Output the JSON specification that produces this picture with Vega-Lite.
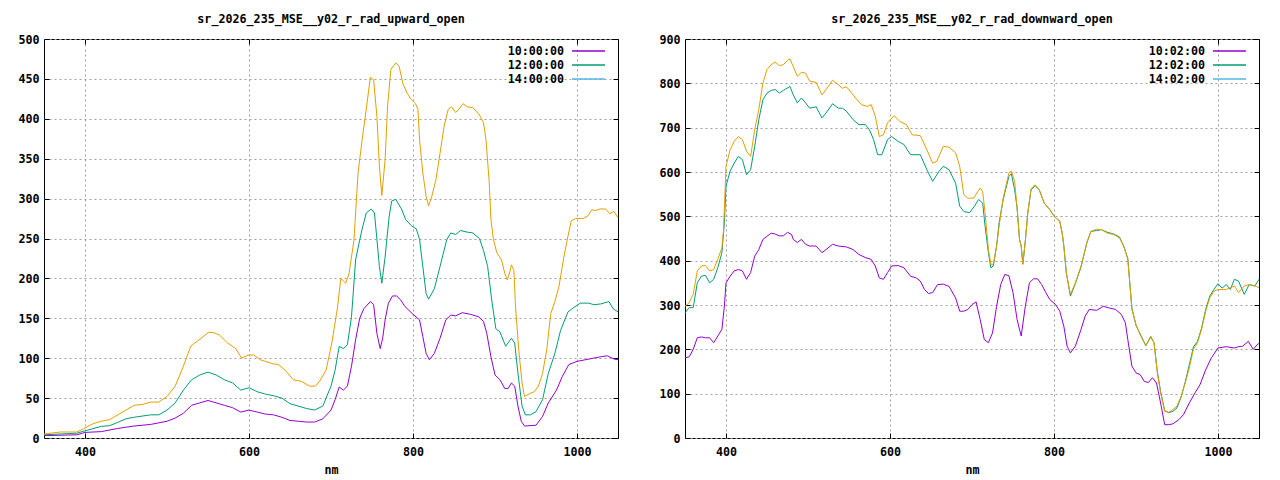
{
  "$schema": "https://vega.github.io/schema/vega-lite/v6.json",
  "padding": {"left": 13, "top": 13, "right": 0, "bottom": 0},
  "spacing": 33,
  "datasets": {
    "upward": [
      {"t":"10:00:00","nm":350,"v":3},{"t":"10:00:00","nm":390,"v":4},{"t":"10:00:00","nm":400,"v":7},{"t":"10:00:00","nm":420,"v":8},{"t":"10:00:00","nm":440,"v":12},{"t":"10:00:00","nm":460,"v":15},{"t":"10:00:00","nm":480,"v":17},{"t":"10:00:00","nm":500,"v":21},{"t":"10:00:00","nm":510,"v":25},{"t":"10:00:00","nm":520,"v":31},{"t":"10:00:00","nm":530,"v":41},{"t":"10:00:00","nm":540,"v":44},{"t":"10:00:00","nm":550,"v":47},{"t":"10:00:00","nm":560,"v":44},{"t":"10:00:00","nm":570,"v":41},{"t":"10:00:00","nm":580,"v":38},{"t":"10:00:00","nm":590,"v":32.5},{"t":"10:00:00","nm":600,"v":35},{"t":"10:00:00","nm":610,"v":32.5},{"t":"10:00:00","nm":620,"v":30},{"t":"10:00:00","nm":630,"v":29},{"t":"10:00:00","nm":640,"v":26},{"t":"10:00:00","nm":650,"v":22},{"t":"10:00:00","nm":660,"v":21},{"t":"10:00:00","nm":670,"v":20},{"t":"10:00:00","nm":680,"v":20},{"t":"10:00:00","nm":690,"v":24},{"t":"10:00:00","nm":700,"v":35},{"t":"10:00:00","nm":705,"v":48},{"t":"10:00:00","nm":710,"v":64},{"t":"10:00:00","nm":715,"v":60},{"t":"10:00:00","nm":720,"v":65},{"t":"10:00:00","nm":725,"v":90},{"t":"10:00:00","nm":730,"v":123},{"t":"10:00:00","nm":735,"v":150},{"t":"10:00:00","nm":740,"v":162},{"t":"10:00:00","nm":748,"v":171},{"t":"10:00:00","nm":752,"v":167},{"t":"10:00:00","nm":756,"v":131},{"t":"10:00:00","nm":760,"v":112},{"t":"10:00:00","nm":763,"v":125},{"t":"10:00:00","nm":766,"v":148},{"t":"10:00:00","nm":770,"v":169},{"t":"10:00:00","nm":775,"v":178},{"t":"10:00:00","nm":780,"v":178},{"t":"10:00:00","nm":785,"v":173},{"t":"10:00:00","nm":790,"v":165},{"t":"10:00:00","nm":800,"v":155},{"t":"10:00:00","nm":808,"v":148},{"t":"10:00:00","nm":812,"v":127},{"t":"10:00:00","nm":816,"v":106},{"t":"10:00:00","nm":820,"v":98},{"t":"10:00:00","nm":826,"v":106},{"t":"10:00:00","nm":833,"v":125},{"t":"10:00:00","nm":840,"v":148},{"t":"10:00:00","nm":846,"v":154},{"t":"10:00:00","nm":852,"v":153},{"t":"10:00:00","nm":860,"v":157},{"t":"10:00:00","nm":870,"v":155},{"t":"10:00:00","nm":880,"v":152},{"t":"10:00:00","nm":886,"v":146},{"t":"10:00:00","nm":890,"v":131},{"t":"10:00:00","nm":895,"v":102},{"t":"10:00:00","nm":900,"v":79},{"t":"10:00:00","nm":906,"v":73},{"t":"10:00:00","nm":912,"v":62},{"t":"10:00:00","nm":916,"v":62},{"t":"10:00:00","nm":920,"v":69},{"t":"10:00:00","nm":924,"v":65},{"t":"10:00:00","nm":928,"v":40},{"t":"10:00:00","nm":932,"v":21},{"t":"10:00:00","nm":936,"v":15},{"t":"10:00:00","nm":950,"v":16},{"t":"10:00:00","nm":958,"v":27},{"t":"10:00:00","nm":965,"v":44},{"t":"10:00:00","nm":975,"v":60},{"t":"10:00:00","nm":982,"v":77},{"t":"10:00:00","nm":990,"v":92},{"t":"10:00:00","nm":1000,"v":96},{"t":"10:00:00","nm":1010,"v":98},{"t":"10:00:00","nm":1020,"v":100},{"t":"10:00:00","nm":1030,"v":102},{"t":"10:00:00","nm":1037,"v":103},{"t":"10:00:00","nm":1045,"v":99},{"t":"10:00:00","nm":1050,"v":98},
      {"t":"12:00:00","nm":350,"v":4},{"t":"12:00:00","nm":390,"v":6},{"t":"12:00:00","nm":400,"v":9},{"t":"12:00:00","nm":420,"v":14.6},{"t":"12:00:00","nm":430,"v":15.4},{"t":"12:00:00","nm":440,"v":19.6},{"t":"12:00:00","nm":450,"v":24},{"t":"12:00:00","nm":460,"v":26},{"t":"12:00:00","nm":480,"v":29},{"t":"12:00:00","nm":490,"v":29},{"t":"12:00:00","nm":500,"v":35},{"t":"12:00:00","nm":510,"v":44},{"t":"12:00:00","nm":520,"v":60},{"t":"12:00:00","nm":530,"v":73},{"t":"12:00:00","nm":540,"v":79},{"t":"12:00:00","nm":550,"v":82.5},{"t":"12:00:00","nm":560,"v":79},{"t":"12:00:00","nm":570,"v":73},{"t":"12:00:00","nm":580,"v":69},{"t":"12:00:00","nm":590,"v":60},{"t":"12:00:00","nm":600,"v":63},{"t":"12:00:00","nm":610,"v":58},{"t":"12:00:00","nm":620,"v":55},{"t":"12:00:00","nm":630,"v":53},{"t":"12:00:00","nm":640,"v":50},{"t":"12:00:00","nm":650,"v":43},{"t":"12:00:00","nm":660,"v":40},{"t":"12:00:00","nm":670,"v":37},{"t":"12:00:00","nm":680,"v":35},{"t":"12:00:00","nm":690,"v":40},{"t":"12:00:00","nm":700,"v":65},{"t":"12:00:00","nm":705,"v":85},{"t":"12:00:00","nm":710,"v":115},{"t":"12:00:00","nm":715,"v":112},{"t":"12:00:00","nm":720,"v":117},{"t":"12:00:00","nm":725,"v":152},{"t":"12:00:00","nm":730,"v":223},{"t":"12:00:00","nm":735,"v":248},{"t":"12:00:00","nm":738,"v":262},{"t":"12:00:00","nm":743,"v":282},{"t":"12:00:00","nm":749,"v":287},{"t":"12:00:00","nm":753,"v":282},{"t":"12:00:00","nm":756,"v":249},{"t":"12:00:00","nm":759,"v":215},{"t":"12:00:00","nm":762,"v":194},{"t":"12:00:00","nm":766,"v":227},{"t":"12:00:00","nm":768,"v":248},{"t":"12:00:00","nm":771,"v":278},{"t":"12:00:00","nm":774,"v":297},{"t":"12:00:00","nm":779,"v":299},{"t":"12:00:00","nm":786,"v":287},{"t":"12:00:00","nm":791,"v":274},{"t":"12:00:00","nm":798,"v":266},{"t":"12:00:00","nm":804,"v":262},{"t":"12:00:00","nm":808,"v":249},{"t":"12:00:00","nm":811,"v":223},{"t":"12:00:00","nm":816,"v":181},{"t":"12:00:00","nm":819,"v":174},{"t":"12:00:00","nm":826,"v":187},{"t":"12:00:00","nm":833,"v":215},{"t":"12:00:00","nm":841,"v":248},{"t":"12:00:00","nm":846,"v":257},{"t":"12:00:00","nm":852,"v":255},{"t":"12:00:00","nm":858,"v":260},{"t":"12:00:00","nm":866,"v":258},{"t":"12:00:00","nm":873,"v":257},{"t":"12:00:00","nm":881,"v":250},{"t":"12:00:00","nm":886,"v":235},{"t":"12:00:00","nm":891,"v":215},{"t":"12:00:00","nm":896,"v":173},{"t":"12:00:00","nm":901,"v":137},{"t":"12:00:00","nm":906,"v":133},{"t":"12:00:00","nm":913,"v":115},{"t":"12:00:00","nm":920,"v":125},{"t":"12:00:00","nm":924,"v":119},{"t":"12:00:00","nm":928,"v":81},{"t":"12:00:00","nm":933,"v":40},{"t":"12:00:00","nm":937,"v":29},{"t":"12:00:00","nm":943,"v":29},{"t":"12:00:00","nm":950,"v":33},{"t":"12:00:00","nm":958,"v":48},{"t":"12:00:00","nm":965,"v":81},{"t":"12:00:00","nm":973,"v":106},{"t":"12:00:00","nm":980,"v":135},{"t":"12:00:00","nm":989,"v":158},{"t":"12:00:00","nm":994,"v":162},{"t":"12:00:00","nm":1004,"v":169},{"t":"12:00:00","nm":1014,"v":169},{"t":"12:00:00","nm":1021,"v":167},{"t":"12:00:00","nm":1029,"v":168},{"t":"12:00:00","nm":1039,"v":171},{"t":"12:00:00","nm":1044,"v":162},{"t":"12:00:00","nm":1050,"v":158},
      {"t":"14:00:00","nm":350,"v":5},{"t":"14:00:00","nm":370,"v":7.5},{"t":"14:00:00","nm":390,"v":7.5},{"t":"14:00:00","nm":400,"v":12.5},{"t":"14:00:00","nm":410,"v":18},{"t":"14:00:00","nm":420,"v":21},{"t":"14:00:00","nm":430,"v":23},{"t":"14:00:00","nm":440,"v":29},{"t":"14:00:00","nm":450,"v":35},{"t":"14:00:00","nm":460,"v":41},{"t":"14:00:00","nm":470,"v":42},{"t":"14:00:00","nm":480,"v":45},{"t":"14:00:00","nm":490,"v":45},{"t":"14:00:00","nm":500,"v":52},{"t":"14:00:00","nm":510,"v":65},{"t":"14:00:00","nm":520,"v":90},{"t":"14:00:00","nm":529,"v":115},{"t":"14:00:00","nm":539,"v":123},{"t":"14:00:00","nm":551,"v":132.5},{"t":"14:00:00","nm":557,"v":132},{"t":"14:00:00","nm":564,"v":129},{"t":"14:00:00","nm":574,"v":119},{"t":"14:00:00","nm":584,"v":112},{"t":"14:00:00","nm":591,"v":100},{"t":"14:00:00","nm":599,"v":104},{"t":"14:00:00","nm":606,"v":104},{"t":"14:00:00","nm":614,"v":98},{"t":"14:00:00","nm":629,"v":93},{"t":"14:00:00","nm":636,"v":92},{"t":"14:00:00","nm":644,"v":85},{"t":"14:00:00","nm":654,"v":73},{"t":"14:00:00","nm":664,"v":71},{"t":"14:00:00","nm":674,"v":65},{"t":"14:00:00","nm":681,"v":65},{"t":"14:00:00","nm":686,"v":71},{"t":"14:00:00","nm":694,"v":85},{"t":"14:00:00","nm":701,"v":119},{"t":"14:00:00","nm":708,"v":164},{"t":"14:00:00","nm":712,"v":200},{"t":"14:00:00","nm":718,"v":194},{"t":"14:00:00","nm":722,"v":206},{"t":"14:00:00","nm":728,"v":248},{"t":"14:00:00","nm":733,"v":332},{"t":"14:00:00","nm":738,"v":374},{"t":"14:00:00","nm":743,"v":412},{"t":"14:00:00","nm":748,"v":452},{"t":"14:00:00","nm":752,"v":449},{"t":"14:00:00","nm":756,"v":403},{"t":"14:00:00","nm":759,"v":341},{"t":"14:00:00","nm":762,"v":304},{"t":"14:00:00","nm":766,"v":349},{"t":"14:00:00","nm":769,"v":416},{"t":"14:00:00","nm":773,"v":462},{"t":"14:00:00","nm":779,"v":470},{"t":"14:00:00","nm":783,"v":466},{"t":"14:00:00","nm":788,"v":443},{"t":"14:00:00","nm":793,"v":432},{"t":"14:00:00","nm":798,"v":424},{"t":"14:00:00","nm":803,"v":419},{"t":"14:00:00","nm":806,"v":412},{"t":"14:00:00","nm":808,"v":374},{"t":"14:00:00","nm":812,"v":332},{"t":"14:00:00","nm":816,"v":303},{"t":"14:00:00","nm":819,"v":291},{"t":"14:00:00","nm":823,"v":303},{"t":"14:00:00","nm":828,"v":324},{"t":"14:00:00","nm":833,"v":357},{"t":"14:00:00","nm":838,"v":391},{"t":"14:00:00","nm":843,"v":412},{"t":"14:00:00","nm":847,"v":415},{"t":"14:00:00","nm":852,"v":408},{"t":"14:00:00","nm":856,"v":412},{"t":"14:00:00","nm":861,"v":419},{"t":"14:00:00","nm":866,"v":415},{"t":"14:00:00","nm":873,"v":414},{"t":"14:00:00","nm":881,"v":405},{"t":"14:00:00","nm":886,"v":395},{"t":"14:00:00","nm":889,"v":374},{"t":"14:00:00","nm":893,"v":320},{"t":"14:00:00","nm":895,"v":274},{"t":"14:00:00","nm":898,"v":249},{"t":"14:00:00","nm":902,"v":233},{"t":"14:00:00","nm":908,"v":223},{"t":"14:00:00","nm":912,"v":206},{"t":"14:00:00","nm":915,"v":198},{"t":"14:00:00","nm":918,"v":208},{"t":"14:00:00","nm":920,"v":217},{"t":"14:00:00","nm":923,"v":210},{"t":"14:00:00","nm":925,"v":165},{"t":"14:00:00","nm":929,"v":110},{"t":"14:00:00","nm":933,"v":69},{"t":"14:00:00","nm":936,"v":52},{"t":"14:00:00","nm":943,"v":56},{"t":"14:00:00","nm":948,"v":58},{"t":"14:00:00","nm":953,"v":65},{"t":"14:00:00","nm":958,"v":81},{"t":"14:00:00","nm":963,"v":110},{"t":"14:00:00","nm":968,"v":156},{"t":"14:00:00","nm":973,"v":171},{"t":"14:00:00","nm":978,"v":190},{"t":"14:00:00","nm":984,"v":227},{"t":"14:00:00","nm":988,"v":248},{"t":"14:00:00","nm":993,"v":272},{"t":"14:00:00","nm":998,"v":275},{"t":"14:00:00","nm":1007,"v":275},{"t":"14:00:00","nm":1013,"v":278},{"t":"14:00:00","nm":1018,"v":286},{"t":"14:00:00","nm":1023,"v":285},{"t":"14:00:00","nm":1028,"v":287},{"t":"14:00:00","nm":1035,"v":287},{"t":"14:00:00","nm":1040,"v":281},{"t":"14:00:00","nm":1045,"v":284},{"t":"14:00:00","nm":1050,"v":276}
    ],
    "downward": [
      {"t":"10:02:00","nm":350,"v":181},{"t":"10:02:00","nm":355,"v":183},{"t":"10:02:00","nm":360,"v":200},{"t":"10:02:00","nm":365,"v":226},{"t":"10:02:00","nm":370,"v":228},{"t":"10:02:00","nm":375,"v":226},{"t":"10:02:00","nm":380,"v":226},{"t":"10:02:00","nm":385,"v":215},{"t":"10:02:00","nm":390,"v":230},{"t":"10:02:00","nm":395,"v":245},{"t":"10:02:00","nm":398,"v":297},{"t":"10:02:00","nm":400,"v":350},{"t":"10:02:00","nm":405,"v":365},{"t":"10:02:00","nm":410,"v":377},{"t":"10:02:00","nm":415,"v":380},{"t":"10:02:00","nm":420,"v":377},{"t":"10:02:00","nm":425,"v":358},{"t":"10:02:00","nm":430,"v":373},{"t":"10:02:00","nm":435,"v":410},{"t":"10:02:00","nm":440,"v":425},{"t":"10:02:00","nm":445,"v":448},{"t":"10:02:00","nm":450,"v":455},{"t":"10:02:00","nm":455,"v":462},{"t":"10:02:00","nm":460,"v":460},{"t":"10:02:00","nm":465,"v":456},{"t":"10:02:00","nm":470,"v":456},{"t":"10:02:00","nm":475,"v":464},{"t":"10:02:00","nm":480,"v":459},{"t":"10:02:00","nm":482,"v":448},{"t":"10:02:00","nm":487,"v":441},{"t":"10:02:00","nm":492,"v":448},{"t":"10:02:00","nm":497,"v":437},{"t":"10:02:00","nm":502,"v":433},{"t":"10:02:00","nm":510,"v":433},{"t":"10:02:00","nm":517,"v":418},{"t":"10:02:00","nm":522,"v":425},{"t":"10:02:00","nm":530,"v":437},{"t":"10:02:00","nm":537,"v":433},{"t":"10:02:00","nm":547,"v":431},{"t":"10:02:00","nm":555,"v":425},{"t":"10:02:00","nm":562,"v":414},{"t":"10:02:00","nm":570,"v":407},{"t":"10:02:00","nm":577,"v":403},{"t":"10:02:00","nm":582,"v":388},{"t":"10:02:00","nm":587,"v":361},{"t":"10:02:00","nm":592,"v":358},{"t":"10:02:00","nm":597,"v":373},{"t":"10:02:00","nm":602,"v":388},{"t":"10:02:00","nm":610,"v":389},{"t":"10:02:00","nm":617,"v":384},{"t":"10:02:00","nm":625,"v":365},{"t":"10:02:00","nm":632,"v":361},{"t":"10:02:00","nm":637,"v":354},{"t":"10:02:00","nm":642,"v":335},{"t":"10:02:00","nm":647,"v":326},{"t":"10:02:00","nm":652,"v":328},{"t":"10:02:00","nm":658,"v":346},{"t":"10:02:00","nm":665,"v":347},{"t":"10:02:00","nm":672,"v":342},{"t":"10:02:00","nm":680,"v":316},{"t":"10:02:00","nm":685,"v":286},{"t":"10:02:00","nm":690,"v":286},{"t":"10:02:00","nm":695,"v":290},{"t":"10:02:00","nm":700,"v":301},{"t":"10:02:00","nm":705,"v":307},{"t":"10:02:00","nm":710,"v":267},{"t":"10:02:00","nm":715,"v":222},{"t":"10:02:00","nm":720,"v":215},{"t":"10:02:00","nm":725,"v":237},{"t":"10:02:00","nm":730,"v":297},{"t":"10:02:00","nm":735,"v":346},{"t":"10:02:00","nm":740,"v":369},{"t":"10:02:00","nm":745,"v":366},{"t":"10:02:00","nm":750,"v":328},{"t":"10:02:00","nm":755,"v":267},{"t":"10:02:00","nm":760,"v":230},{"t":"10:02:00","nm":765,"v":297},{"t":"10:02:00","nm":770,"v":350},{"t":"10:02:00","nm":775,"v":359},{"t":"10:02:00","nm":780,"v":359},{"t":"10:02:00","nm":785,"v":346},{"t":"10:02:00","nm":790,"v":328},{"t":"10:02:00","nm":795,"v":312},{"t":"10:02:00","nm":802,"v":301},{"t":"10:02:00","nm":807,"v":286},{"t":"10:02:00","nm":812,"v":252},{"t":"10:02:00","nm":816,"v":207},{"t":"10:02:00","nm":820,"v":192},{"t":"10:02:00","nm":826,"v":207},{"t":"10:02:00","nm":833,"v":245},{"t":"10:02:00","nm":838,"v":275},{"t":"10:02:00","nm":843,"v":290},{"t":"10:02:00","nm":852,"v":288},{"t":"10:02:00","nm":860,"v":297},{"t":"10:02:00","nm":868,"v":293},{"t":"10:02:00","nm":875,"v":290},{"t":"10:02:00","nm":882,"v":279},{"t":"10:02:00","nm":887,"v":260},{"t":"10:02:00","nm":890,"v":222},{"t":"10:02:00","nm":895,"v":162},{"t":"10:02:00","nm":900,"v":147},{"t":"10:02:00","nm":905,"v":143},{"t":"10:02:00","nm":910,"v":128},{"t":"10:02:00","nm":915,"v":125},{"t":"10:02:00","nm":920,"v":136},{"t":"10:02:00","nm":925,"v":124},{"t":"10:02:00","nm":930,"v":79},{"t":"10:02:00","nm":935,"v":30},{"t":"10:02:00","nm":940,"v":30},{"t":"10:02:00","nm":945,"v":32},{"t":"10:02:00","nm":952,"v":41},{"t":"10:02:00","nm":958,"v":53},{"t":"10:02:00","nm":965,"v":79},{"t":"10:02:00","nm":972,"v":102},{"t":"10:02:00","nm":978,"v":120},{"t":"10:02:00","nm":985,"v":154},{"t":"10:02:00","nm":992,"v":181},{"t":"10:02:00","nm":1000,"v":203},{"t":"10:02:00","nm":1010,"v":206},{"t":"10:02:00","nm":1020,"v":203},{"t":"10:02:00","nm":1025,"v":206},{"t":"10:02:00","nm":1030,"v":207},{"t":"10:02:00","nm":1037,"v":218},{"t":"10:02:00","nm":1043,"v":200},{"t":"10:02:00","nm":1048,"v":211},{"t":"10:02:00","nm":1050,"v":213},
      {"t":"12:02:00","nm":350,"v":282},{"t":"12:02:00","nm":355,"v":294},{"t":"12:02:00","nm":360,"v":294},{"t":"12:02:00","nm":365,"v":350},{"t":"12:02:00","nm":370,"v":365},{"t":"12:02:00","nm":375,"v":367},{"t":"12:02:00","nm":380,"v":350},{"t":"12:02:00","nm":385,"v":358},{"t":"12:02:00","nm":390,"v":384},{"t":"12:02:00","nm":395,"v":418},{"t":"12:02:00","nm":398,"v":485},{"t":"12:02:00","nm":400,"v":568},{"t":"12:02:00","nm":405,"v":602},{"t":"12:02:00","nm":410,"v":620},{"t":"12:02:00","nm":415,"v":635},{"t":"12:02:00","nm":420,"v":628},{"t":"12:02:00","nm":425,"v":594},{"t":"12:02:00","nm":430,"v":605},{"t":"12:02:00","nm":435,"v":658},{"t":"12:02:00","nm":440,"v":718},{"t":"12:02:00","nm":445,"v":763},{"t":"12:02:00","nm":450,"v":778},{"t":"12:02:00","nm":455,"v":784},{"t":"12:02:00","nm":460,"v":786},{"t":"12:02:00","nm":465,"v":778},{"t":"12:02:00","nm":470,"v":784},{"t":"12:02:00","nm":478,"v":793},{"t":"12:02:00","nm":482,"v":774},{"t":"12:02:00","nm":487,"v":756},{"t":"12:02:00","nm":492,"v":767},{"t":"12:02:00","nm":497,"v":756},{"t":"12:02:00","nm":502,"v":744},{"t":"12:02:00","nm":510,"v":747},{"t":"12:02:00","nm":517,"v":722},{"t":"12:02:00","nm":522,"v":733},{"t":"12:02:00","nm":530,"v":754},{"t":"12:02:00","nm":537,"v":744},{"t":"12:02:00","nm":542,"v":744},{"t":"12:02:00","nm":547,"v":737},{"t":"12:02:00","nm":555,"v":718},{"t":"12:02:00","nm":562,"v":707},{"t":"12:02:00","nm":570,"v":707},{"t":"12:02:00","nm":575,"v":695},{"t":"12:02:00","nm":580,"v":673},{"t":"12:02:00","nm":585,"v":639},{"t":"12:02:00","nm":590,"v":639},{"t":"12:02:00","nm":597,"v":673},{"t":"12:02:00","nm":602,"v":680},{"t":"12:02:00","nm":610,"v":669},{"t":"12:02:00","nm":617,"v":662},{"t":"12:02:00","nm":625,"v":639},{"t":"12:02:00","nm":637,"v":639},{"t":"12:02:00","nm":645,"v":605},{"t":"12:02:00","nm":652,"v":579},{"t":"12:02:00","nm":660,"v":602},{"t":"12:02:00","nm":665,"v":613},{"t":"12:02:00","nm":672,"v":605},{"t":"12:02:00","nm":680,"v":575},{"t":"12:02:00","nm":685,"v":523},{"t":"12:02:00","nm":690,"v":511},{"t":"12:02:00","nm":697,"v":508},{"t":"12:02:00","nm":703,"v":523},{"t":"12:02:00","nm":708,"v":538},{"t":"12:02:00","nm":713,"v":530},{"t":"12:02:00","nm":716,"v":477},{"t":"12:02:00","nm":720,"v":418},{"t":"12:02:00","nm":723,"v":384},{"t":"12:02:00","nm":726,"v":388},{"t":"12:02:00","nm":730,"v":433},{"t":"12:02:00","nm":733,"v":485},{"t":"12:02:00","nm":738,"v":538},{"t":"12:02:00","nm":745,"v":590},{"t":"12:02:00","nm":748,"v":596},{"t":"12:02:00","nm":752,"v":560},{"t":"12:02:00","nm":755,"v":519},{"t":"12:02:00","nm":758,"v":447},{"t":"12:02:00","nm":760,"v":433},{"t":"12:02:00","nm":762,"v":392},{"t":"12:02:00","nm":765,"v":444},{"t":"12:02:00","nm":768,"v":507},{"t":"12:02:00","nm":772,"v":560},{"t":"12:02:00","nm":777,"v":569},{"t":"12:02:00","nm":782,"v":560},{"t":"12:02:00","nm":788,"v":530},{"t":"12:02:00","nm":795,"v":515},{"t":"12:02:00","nm":800,"v":500},{"t":"12:02:00","nm":807,"v":489},{"t":"12:02:00","nm":810,"v":462},{"t":"12:02:00","nm":812,"v":433},{"t":"12:02:00","nm":815,"v":373},{"t":"12:02:00","nm":820,"v":320},{"t":"12:02:00","nm":826,"v":348},{"t":"12:02:00","nm":833,"v":386},{"t":"12:02:00","nm":840,"v":440},{"t":"12:02:00","nm":845,"v":466},{"t":"12:02:00","nm":852,"v":468},{"t":"12:02:00","nm":858,"v":470},{"t":"12:02:00","nm":865,"v":464},{"t":"12:02:00","nm":873,"v":460},{"t":"12:02:00","nm":880,"v":453},{"t":"12:02:00","nm":885,"v":433},{"t":"12:02:00","nm":890,"v":405},{"t":"12:02:00","nm":895,"v":293},{"t":"12:02:00","nm":900,"v":254},{"t":"12:02:00","nm":905,"v":235},{"t":"12:02:00","nm":912,"v":208},{"t":"12:02:00","nm":918,"v":228},{"t":"12:02:00","nm":922,"v":215},{"t":"12:02:00","nm":926,"v":150},{"t":"12:02:00","nm":930,"v":105},{"t":"12:02:00","nm":935,"v":62},{"t":"12:02:00","nm":940,"v":57},{"t":"12:02:00","nm":945,"v":60},{"t":"12:02:00","nm":950,"v":68},{"t":"12:02:00","nm":955,"v":92},{"t":"12:02:00","nm":960,"v":126},{"t":"12:02:00","nm":965,"v":165},{"t":"12:02:00","nm":970,"v":205},{"t":"12:02:00","nm":975,"v":218},{"t":"12:02:00","nm":980,"v":248},{"t":"12:02:00","nm":985,"v":290},{"t":"12:02:00","nm":990,"v":320},{"t":"12:02:00","nm":995,"v":335},{"t":"12:02:00","nm":1000,"v":348},{"t":"12:02:00","nm":1005,"v":338},{"t":"12:02:00","nm":1010,"v":346},{"t":"12:02:00","nm":1015,"v":335},{"t":"12:02:00","nm":1020,"v":358},{"t":"12:02:00","nm":1025,"v":354},{"t":"12:02:00","nm":1032,"v":324},{"t":"12:02:00","nm":1038,"v":346},{"t":"12:02:00","nm":1045,"v":343},{"t":"12:02:00","nm":1050,"v":358},
      {"t":"14:02:00","nm":350,"v":297},{"t":"14:02:00","nm":355,"v":305},{"t":"14:02:00","nm":360,"v":324},{"t":"14:02:00","nm":365,"v":377},{"t":"14:02:00","nm":370,"v":388},{"t":"14:02:00","nm":375,"v":389},{"t":"14:02:00","nm":380,"v":377},{"t":"14:02:00","nm":385,"v":380},{"t":"14:02:00","nm":390,"v":403},{"t":"14:02:00","nm":395,"v":429},{"t":"14:02:00","nm":397,"v":470},{"t":"14:02:00","nm":400,"v":613},{"t":"14:02:00","nm":405,"v":650},{"t":"14:02:00","nm":410,"v":669},{"t":"14:02:00","nm":415,"v":680},{"t":"14:02:00","nm":420,"v":673},{"t":"14:02:00","nm":425,"v":647},{"t":"14:02:00","nm":430,"v":635},{"t":"14:02:00","nm":435,"v":695},{"t":"14:02:00","nm":440,"v":741},{"t":"14:02:00","nm":445,"v":801},{"t":"14:02:00","nm":450,"v":831},{"t":"14:02:00","nm":455,"v":842},{"t":"14:02:00","nm":460,"v":848},{"t":"14:02:00","nm":465,"v":840},{"t":"14:02:00","nm":470,"v":842},{"t":"14:02:00","nm":475,"v":852},{"t":"14:02:00","nm":478,"v":855},{"t":"14:02:00","nm":482,"v":838},{"t":"14:02:00","nm":487,"v":816},{"t":"14:02:00","nm":492,"v":825},{"t":"14:02:00","nm":497,"v":823},{"t":"14:02:00","nm":502,"v":805},{"t":"14:02:00","nm":510,"v":802},{"t":"14:02:00","nm":517,"v":774},{"t":"14:02:00","nm":522,"v":786},{"t":"14:02:00","nm":530,"v":807},{"t":"14:02:00","nm":537,"v":797},{"t":"14:02:00","nm":542,"v":789},{"t":"14:02:00","nm":547,"v":792},{"t":"14:02:00","nm":555,"v":774},{"t":"14:02:00","nm":565,"v":752},{"t":"14:02:00","nm":572,"v":748},{"t":"14:02:00","nm":577,"v":752},{"t":"14:02:00","nm":582,"v":726},{"t":"14:02:00","nm":587,"v":680},{"t":"14:02:00","nm":592,"v":684},{"t":"14:02:00","nm":597,"v":711},{"t":"14:02:00","nm":605,"v":727},{"t":"14:02:00","nm":612,"v":714},{"t":"14:02:00","nm":620,"v":707},{"t":"14:02:00","nm":627,"v":684},{"t":"14:02:00","nm":637,"v":682},{"t":"14:02:00","nm":645,"v":650},{"t":"14:02:00","nm":652,"v":620},{"t":"14:02:00","nm":657,"v":624},{"t":"14:02:00","nm":665,"v":658},{"t":"14:02:00","nm":672,"v":656},{"t":"14:02:00","nm":680,"v":643},{"t":"14:02:00","nm":685,"v":613},{"t":"14:02:00","nm":690,"v":549},{"t":"14:02:00","nm":695,"v":541},{"t":"14:02:00","nm":702,"v":541},{"t":"14:02:00","nm":710,"v":564},{"t":"14:02:00","nm":713,"v":556},{"t":"14:02:00","nm":716,"v":507},{"t":"14:02:00","nm":720,"v":425},{"t":"14:02:00","nm":723,"v":392},{"t":"14:02:00","nm":726,"v":392},{"t":"14:02:00","nm":730,"v":433},{"t":"14:02:00","nm":733,"v":477},{"t":"14:02:00","nm":738,"v":541},{"t":"14:02:00","nm":745,"v":598},{"t":"14:02:00","nm":748,"v":602},{"t":"14:02:00","nm":752,"v":579},{"t":"14:02:00","nm":755,"v":519},{"t":"14:02:00","nm":758,"v":447},{"t":"14:02:00","nm":760,"v":433},{"t":"14:02:00","nm":762,"v":392},{"t":"14:02:00","nm":765,"v":444},{"t":"14:02:00","nm":768,"v":507},{"t":"14:02:00","nm":772,"v":562},{"t":"14:02:00","nm":777,"v":571},{"t":"14:02:00","nm":782,"v":560},{"t":"14:02:00","nm":788,"v":530},{"t":"14:02:00","nm":795,"v":515},{"t":"14:02:00","nm":800,"v":500},{"t":"14:02:00","nm":807,"v":489},{"t":"14:02:00","nm":810,"v":462},{"t":"14:02:00","nm":812,"v":433},{"t":"14:02:00","nm":815,"v":373},{"t":"14:02:00","nm":820,"v":324},{"t":"14:02:00","nm":826,"v":350},{"t":"14:02:00","nm":833,"v":388},{"t":"14:02:00","nm":840,"v":440},{"t":"14:02:00","nm":845,"v":466},{"t":"14:02:00","nm":852,"v":471},{"t":"14:02:00","nm":858,"v":470},{"t":"14:02:00","nm":865,"v":462},{"t":"14:02:00","nm":873,"v":459},{"t":"14:02:00","nm":880,"v":451},{"t":"14:02:00","nm":885,"v":433},{"t":"14:02:00","nm":890,"v":403},{"t":"14:02:00","nm":895,"v":290},{"t":"14:02:00","nm":900,"v":256},{"t":"14:02:00","nm":905,"v":233},{"t":"14:02:00","nm":912,"v":209},{"t":"14:02:00","nm":918,"v":230},{"t":"14:02:00","nm":922,"v":215},{"t":"14:02:00","nm":926,"v":147},{"t":"14:02:00","nm":930,"v":102},{"t":"14:02:00","nm":935,"v":60},{"t":"14:02:00","nm":940,"v":58},{"t":"14:02:00","nm":945,"v":64},{"t":"14:02:00","nm":950,"v":72},{"t":"14:02:00","nm":955,"v":94},{"t":"14:02:00","nm":960,"v":124},{"t":"14:02:00","nm":965,"v":158},{"t":"14:02:00","nm":970,"v":200},{"t":"14:02:00","nm":975,"v":215},{"t":"14:02:00","nm":980,"v":245},{"t":"14:02:00","nm":985,"v":286},{"t":"14:02:00","nm":990,"v":316},{"t":"14:02:00","nm":995,"v":331},{"t":"14:02:00","nm":1000,"v":335},{"t":"14:02:00","nm":1010,"v":335},{"t":"14:02:00","nm":1020,"v":343},{"t":"14:02:00","nm":1025,"v":328},{"t":"14:02:00","nm":1032,"v":343},{"t":"14:02:00","nm":1038,"v":346},{"t":"14:02:00","nm":1045,"v":343},{"t":"14:02:00","nm":1050,"v":339}
    ]
  },
  "hconcat": [
    {
      "width": 574,
      "height": 399,
      "title": "sr_2026_235_MSE__y02_r_rad_upward_open",
      "data": {"name": "upward"},
      "layer": [
        {
          "transform": [{"filter": "datum.t != '14:00:00'"}],
          "mark": {"type": "line", "strokeWidth": 1},
          "encoding": {
            "x": {"field": "nm", "type": "quantitative", "scale": {"domain": [350, 1050], "nice": false, "zero": false}, "axis": {"values": [400, 600, 800, 1000], "format": "d", "title": "nm"}},
            "y": {"field": "v", "type": "quantitative", "scale": {"domain": [0, 500], "nice": false}, "axis": {"values": [0, 50, 100, 150, 200, 250, 300, 350, 400, 450, 500], "title": null, "minExtent": 30, "maxExtent": 30}},
            "color": {"field": "t", "type": "nominal", "scale": {"domain": ["10:00:00", "12:00:00", "14:00:00"], "range": ["#9400d3", "#009e73", "#56b4e9"]}, "legend": {"title": null}}
          }
        },
        {
          "transform": [{"filter": "datum.t == '14:00:00'"}],
          "mark": {"type": "line", "strokeWidth": 1, "color": "#e69f00"},
          "encoding": {
            "x": {"field": "nm", "type": "quantitative", "axis": {"orient": "top", "values": [400, 600, 800, 1000], "labels": false, "grid": false, "title": null, "minExtent": 0, "maxExtent": 0}},
            "y": {"field": "v", "type": "quantitative", "axis": {"orient": "right", "values": [0, 50, 100, 150, 200, 250, 300, 350, 400, 450, 500], "labels": false, "grid": false, "title": null, "minExtent": 0, "maxExtent": 0}}
          }
        }
      ],
      "resolve": {"axis": {"x": "independent", "y": "independent"}}
    },
    {
      "width": 574,
      "height": 399,
      "title": "sr_2026_235_MSE__y02_r_rad_downward_open",
      "data": {"name": "downward"},
      "layer": [
        {
          "transform": [{"filter": "datum.t != '14:02:00'"}],
          "mark": {"type": "line", "strokeWidth": 1},
          "encoding": {
            "x": {"field": "nm", "type": "quantitative", "scale": {"domain": [350, 1050], "nice": false, "zero": false}, "axis": {"values": [400, 600, 800, 1000], "format": "d", "title": "nm"}},
            "y": {"field": "v", "type": "quantitative", "scale": {"domain": [0, 900], "nice": false}, "axis": {"values": [0, 100, 200, 300, 400, 500, 600, 700, 800, 900], "title": null, "minExtent": 30, "maxExtent": 30}},
            "color": {"field": "t", "type": "nominal", "scale": {"domain": ["10:02:00", "12:02:00", "14:02:00"], "range": ["#9400d3", "#009e73", "#56b4e9"]}, "legend": {"title": null}}
          }
        },
        {
          "transform": [{"filter": "datum.t == '14:02:00'"}],
          "mark": {"type": "line", "strokeWidth": 1, "color": "#e69f00"},
          "encoding": {
            "x": {"field": "nm", "type": "quantitative", "axis": {"orient": "top", "values": [400, 600, 800, 1000], "labels": false, "grid": false, "title": null, "minExtent": 0, "maxExtent": 0}},
            "y": {"field": "v", "type": "quantitative", "axis": {"orient": "right", "values": [0, 100, 200, 300, 400, 500, 600, 700, 800, 900], "labels": false, "grid": false, "title": null, "minExtent": 0, "maxExtent": 0}}
          }
        }
      ],
      "resolve": {"axis": {"x": "independent", "y": "independent"}}
    }
  ],
  "resolve": {"scale": {"color": "independent"}, "legend": {"color": "independent"}},
  "config": {
    "font": "DejaVu Sans Mono",
    "view": {"stroke": "black", "strokeWidth": 1},
    "title": {"font": "DejaVu Sans Mono", "fontSize": 11.7, "fontWeight": "bold", "color": "black", "offset": 8},
    "axis": {
      "domain": false,
      "grid": true,
      "gridColor": "#a0a0a0",
      "gridDash": [2, 3],
      "gridWidth": 1,
      "tickColor": "black",
      "tickSize": -5,
      "labelFont": "DejaVu Sans Mono",
      "labelFontSize": 11.7,
      "labelFontWeight": "bold",
      "labelColor": "black",
      "titleFont": "DejaVu Sans Mono",
      "titleFontSize": 11.7,
      "titleFontWeight": "bold",
      "titleColor": "black",
      "titlePadding": 7
    },
    "axisX": {"labelPadding": 13},
    "axisY": {"labelPadding": 10},
    "legend": {
      "orient": "none",
      "legendX": 538,
      "legendY": 5.5,
      "padding": 0,
      "symbolType": "M-3,0H3",
      "symbolSize": 121,
      "symbolStrokeWidth": 1.5,
      "labelFont": "DejaVu Sans Mono",
      "labelFontSize": 11.7,
      "labelFontWeight": "bold",
      "labelColor": "black",
      "labelAlign": "right",
      "labelOffset": -31,
      "rowPadding": 0
    }
  }
}
